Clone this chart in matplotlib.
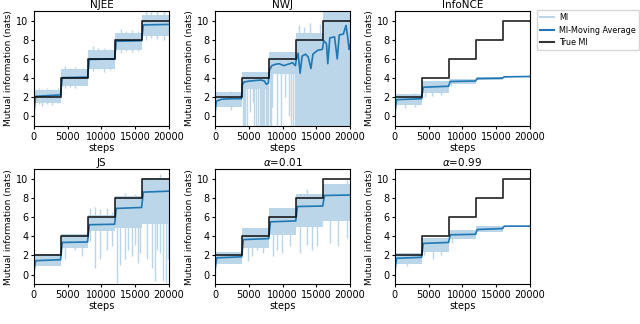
import numpy as np
import matplotlib.pyplot as plt

seg_edges = [0, 4000, 8000, 12000, 16000, 20000]
true_mi = [2, 4, 6, 8, 10]
titles = ['NJEE', 'NWJ', 'InfoNCE', 'JS', r'$\alpha$=0.01', r'$\alpha$=0.99']

# light blue MI band, lower / upper edge per segment
njee_lo = [1.4, 3.2, 5.0, 6.9, 8.4]
njee_hi = [2.8, 4.9, 6.9, 8.7, 10.6]
nwj_lo = [1.0, 2.9, 4.4, -1.0, -1.0]
nwj_hi = [2.5, 4.6, 6.7, 8.7, 11.5]
nce_lo = [1.2, 2.4, 3.4, 3.85, 4.08]
nce_hi = [2.3, 3.7, 3.9, 4.12, 4.22]
js_lo = [0.9, 2.8, 4.5, 4.9, 5.3]
js_hi = [2.1, 4.2, 6.2, 8.2, 10.1]
a01_lo = [1.1, 2.8, 4.1, 5.0, 5.6]
a01_hi = [2.4, 4.9, 6.9, 8.4, 9.5]
a99_lo = [1.1, 2.4, 3.7, 4.4, 4.93]
a99_hi = [2.3, 3.8, 4.6, 5.1, 5.08]

# moving average
ma_x = [0, 250, 3950, 4200, 7950, 8200, 11950, 12200, 15950, 16200, 20000]
njee_ma = [0.3, 2.1, 2.25, 4.05, 4.1, 5.95, 6.0, 7.85, 7.9, 9.55, 9.6]
nce_ma = [0.3, 1.75, 1.85, 3.05, 3.15, 3.65, 3.7, 3.95, 4.0, 4.13, 4.17]
js_ma = [0.3, 1.45, 1.55, 3.35, 3.4, 5.2, 5.25, 6.9, 7.0, 8.6, 8.7]
a01_ma = [0.5, 1.75, 1.85, 3.65, 3.75, 5.5, 5.6, 7.1, 7.15, 8.25, 8.3]
a99_ma = [0.4, 1.7, 1.8, 3.25, 3.35, 4.15, 4.2, 4.7, 4.8, 5.05, 5.05]
nwj_ma_x = [0, 200, 1000, 2500, 3900, 4050, 4300, 5200, 6000, 6800, 7300, 7600,
            7900, 8050, 8400, 9000, 9500, 10200, 10800, 11500, 11900, 12050,
            12300, 12600, 12900, 13400, 13800, 14200, 14500, 15200, 15900,
            16100, 16500, 16700, 17000, 17700, 18100, 18400, 19000, 19400,
            19700, 19850, 20000]
nwj_ma = [0.4, 1.6, 1.8, 1.85, 1.85, 3.3, 3.6, 3.7, 3.75, 3.8, 3.7, 3.35,
          3.5, 4.8, 5.3, 5.45, 5.5, 5.3, 5.45, 5.6, 5.3, 6.0,
          6.6, 4.5, 6.3, 6.5, 6.2, 5.0, 6.5, 6.9, 7.0,
          7.9, 7.6, 5.5, 8.2, 8.3, 6.0, 8.5, 8.6, 9.5,
          8.0, 7.0, 7.5]

# single noisy excursions of MI: (step, low, high)
njee_spikes = [(50, 0.0, 2.0), (700, 1.3, 3.0), (1200, 1.1, 2.9), (1900, 1.3, 3.0),
               (2700, 1.2, 2.9), (3500, 1.4, 2.95), (4600, 3.0, 5.3), (5400, 3.1, 5.1),
               (6100, 3.0, 5.2), (7300, 3.3, 5.1), (8700, 4.7, 7.3), (9500, 4.9, 7.1),
               (10400, 4.6, 7.1), (11300, 4.8, 7.0), (12900, 6.6, 9.1), (13700, 6.8, 8.9),
               (14600, 6.7, 9.0), (15400, 6.8, 8.9), (16600, 8.0, 11), (17400, 8.2, 10.9),
               (18200, 8.1, 11), (19300, 8.0, 11)]
nwj_spikes = [(50, -0.5, 2.0), (2300, 0.7, 2.7), (4100, -1, 4), (4250, -1, 4), (4500, -1, 4),
              (4700, -1, 4), (5200, 0.5, 4), (5600, 1.5, 4), (5800, -1, 4), (6100, -1, 4),
              (6300, -1, 4), (6600, -1, 4), (6800, -1, 4), (7000, -1, 4), (7150, -1, 4),
              (7300, -1, 4), (7500, -1, 4), (7700, -1, 4), (7900, -1, 4), (8100, -1, 6),
              (8250, -1, 6), (8450, 1.0, 6), (9200, -1, 6), (9700, -1, 6), (10400, 2.0, 6),
              (10900, 0.0, 6), (11300, -1, 6), (11600, -1, 6), (11800, -1, 6),
              (12500, 0, 9.5), (13200, 0, 9.3), (14000, 0, 9.8), (15500, 0, 9.6)]
nce_spikes = [(50, 0.0, 2.0), (1500, 0.9, 2.0), (3000, 1.0, 2.4), (4400, 2.0, 3.5),
              (5500, 2.1, 3.6), (6800, 2.2, 3.5), (8300, 3.2, 3.9)]
js_spikes = [(50, 0.0, 1.8), (4590, 1.6, 4), (6070, 2.6, 4), (7060, 1.9, 4),
             (8300, 3.5, 6.9), (9040, 0.7, 7.0), (9780, 1.6, 6.8), (10770, 2.6, 6.9),
             (11500, 3.0, 6.5), (12350, -0.9, 8), (12740, 1.0, 8), (13480, 1.6, 8.5),
             (13975, 2.6, 8), (14470, 1.9, 8), (14960, 3.1, 8.4), (15460, 1.2, 8),
             (15700, 2.3, 8), (16700, 1.6, 10), (17440, 0.7, 10), (17930, -0.7, 10),
             (18170, 2.6, 10), (18670, 2.3, 10.5), (19160, -0.7, 10), (19510, -0.9, 10),
             (19900, 1.6, 10)]
a01_spikes = [(50, 0.0, 1.8), (4930, 1.4, 4.5), (5430, 1.9, 4.5), (6170, 2.6, 4.5),
              (7160, 2.3, 4.5), (8640, 1.9, 6.5), (9140, 2.6, 6.5), (9880, 2.3, 6.5),
              (11110, 3.0, 6.5), (12590, 2.3, 8), (13580, 3.1, 8.9), (14320, 2.6, 8),
              (15060, 3.0, 8), (17040, 3.3, 9), (18270, 3.0, 9), (19510, 3.8, 9.9)]
a99_spikes = [(50, 0.0, 1.8), (1800, 0.9, 2.0), (4300, 2.0, 3.5), (5580, 1.6, 3.5),
              (6900, 2.0, 3.5), (8400, 3.3, 4.4)]

panels = [
    (njee_lo, njee_hi, ma_x, njee_ma, njee_spikes),
    (nwj_lo, nwj_hi, nwj_ma_x, nwj_ma, nwj_spikes),
    (nce_lo, nce_hi, ma_x, nce_ma, nce_spikes),
    (js_lo, js_hi, ma_x, js_ma, js_spikes),
    (a01_lo, a01_hi, ma_x, a01_ma, a01_spikes),
    (a99_lo, a99_hi, ma_x, a99_ma, a99_spikes),
]

light = '#bcd6e9'
fig = plt.figure(figsize=(6.4, 3.24), dpi=100)
lefts = [0.053, 0.336, 0.617]
bottoms = [0.611, 0.123]
for k, (lo, hi, mx, my, spk) in enumerate(panels):
    ax = fig.add_axes([lefts[k % 3], bottoms[k // 3], 0.211, 0.355])
    xb = np.repeat(seg_edges, 2)[1:-1]
    ax.fill_between(xb, np.repeat(lo, 2), np.repeat(hi, 2), color=light, lw=0)
    sx = [s[0] for s in spk]
    ax.vlines(sx, [s[1] for s in spk], [s[2] for s in spk], color=light, lw=1.0)
    ax.plot(mx, my, color='C0', lw=1.2)
    ax.step(seg_edges, true_mi + [true_mi[-1]], where='post', color='k', alpha=0.8, lw=1.3)
    ax.set_xlim(0, 20000)
    ax.set_ylim(-1, 11)
    ax.set_xticks([0, 5000, 10000, 15000, 20000])
    ax.set_yticks([0, 2, 4, 6, 8, 10])
    ax.tick_params(labelsize=7, length=2.5, pad=1.5)
    ax.set_title(titles[k], fontsize=7.5, pad=2)
    ax.set_xlabel('steps', fontsize=7, labelpad=1)
    ax.set_ylabel('Mutual information (nats)', fontsize=6.5, labelpad=2)

handles = [plt.Line2D([], [], color=light, lw=1.5),
           plt.Line2D([], [], color='C0', lw=1.5),
           plt.Line2D([], [], color='k', alpha=0.8, lw=1.5)]
fig.legend(handles, ['MI', 'MI-Moving Average', 'True MI'], loc='upper left',
           bbox_to_anchor=(0.836, 0.975), fontsize=5.8, labelspacing=0.45,
           handlelength=1.8, handletextpad=0.6, borderpad=0.4, borderaxespad=0.2)
fig.savefig('out.png', dpi=100)
